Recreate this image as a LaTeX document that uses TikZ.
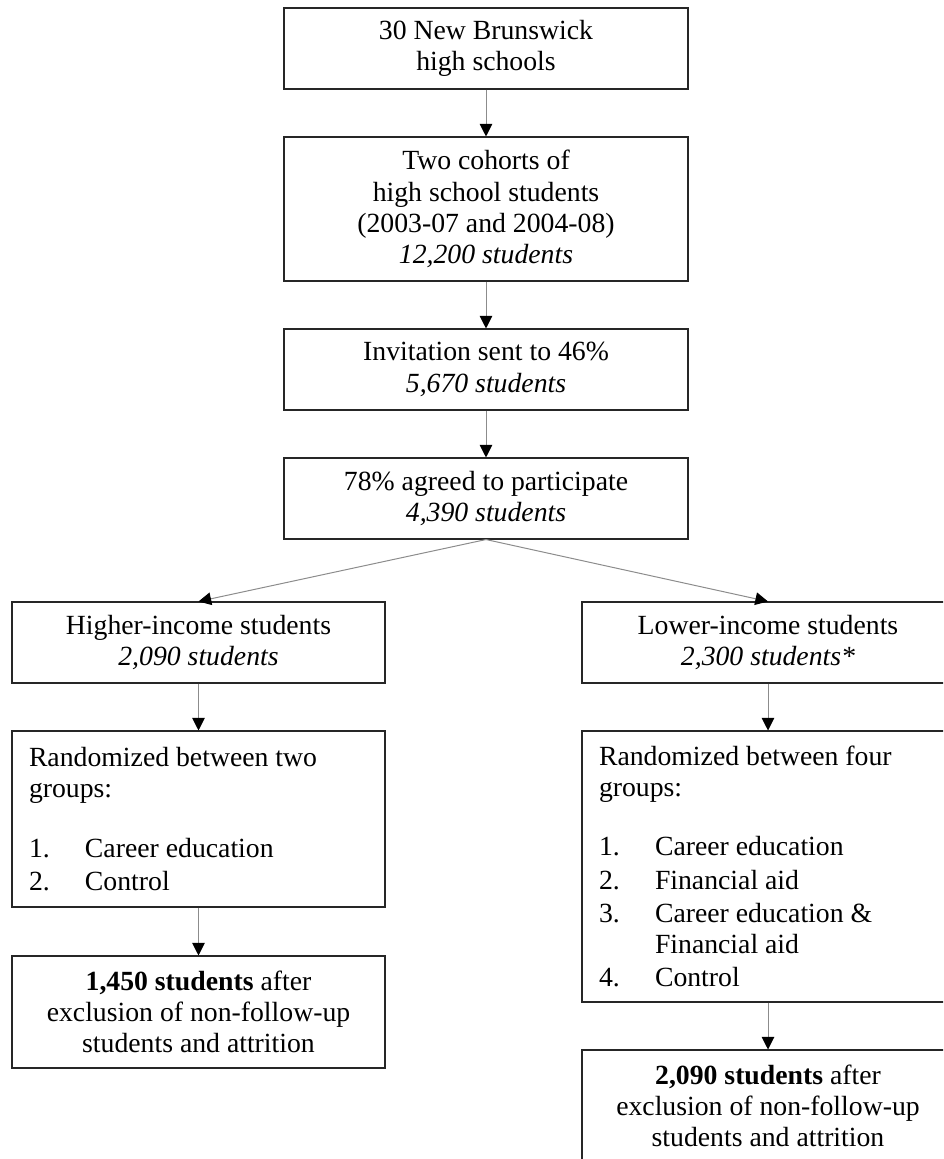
\documentclass[tikz,border=0pt]{standalone}
\usepackage{fontspec}
\setmainfont{Liberation Serif}
\usetikzlibrary{arrows.meta}
\tikzset{
  box/.style={draw=black!85, line width=0.8pt, inner sep=0pt, align=center,
    font=\fontsize{20.8pt}{23.4pt}\selectfont},
  lbox/.style={box, align=flush left, inner xsep=12.75pt, inner ysep=0pt},
  conn/.style={draw=black!45, line width=0.75pt,
    -{Triangle[width=9.5pt,length=9.5pt,color=black]}}
}
\newcommand{\itm}[1]{\makebox[42pt][l]{#1}}
\begin{document}
\begin{tikzpicture}[x=0.75pt,y=-0.75pt]
\useasboundingbox (0,0) rectangle (943,1159);
\clip (0,0) rectangle (943,1159);

\node[box, minimum width=303pt, minimum height=60.75pt] (b1) at (486,48.5)
  {30 New Brunswick\\high schools};
\node[box, minimum width=303pt, minimum height=108pt] (b2) at (486,209)
  {Two cohorts of\\high school students\\(2003-07 and 2004-08)\\\textit{12,200 students}};
\node[box, minimum width=303pt, minimum height=60.75pt] (b3) at (486,369.5)
  {Invitation sent to 46\%\\\textit{5,670 students}};
\node[box, minimum width=303pt, minimum height=60.75pt] (b4) at (486,498.5)
  {78\% agreed to participate\\\textit{4,390 students}};

\node[box, minimum width=279.75pt, minimum height=60.75pt] (b5) at (198.5,642.5)
  {Higher-income students\\\textit{2,090 students}};
\node[box, minimum width=279pt, minimum height=60.75pt] (b6) at (768,642.5)
  {Lower-income students\\\textit{2,300 students*}};

\node[lbox, text width=254.25pt, minimum height=132pt] (b7) at (198.5,819)
  {Randomized between two\\groups:\\[21pt]
   \itm{1.}Career education\\[1.5pt]
   \itm{2.}Control};
\node[lbox, text width=253.5pt, minimum height=203.25pt] (b8) at (768,866.5)
  {Randomized between four\\groups:\\[21pt]
   \itm{1.}Career education\\[1.5pt]
   \itm{2.}Financial aid\\[1.5pt]
   \itm{3.}Career education \&\\
   \itm{}Financial aid\\[1.5pt]
   \itm{4.}Control};

\node[box, minimum width=279.75pt, minimum height=84pt] (b9) at (198.5,1012)
  {\textbf{1,450 students} after\\exclusion of non-follow-up\\students and attrition};
\node[box, minimum width=279pt, minimum height=84pt] (b10) at (768,1106)
  {\textbf{2,090 students} after\\exclusion of non-follow-up\\students and attrition};

\draw[conn] (b1) -- (b2);
\draw[conn] (b2) -- (b3);
\draw[conn] (b3) -- (b4);
\draw[conn] (b4.south) -- (b5.north);
\draw[conn] (b4.south) -- (b6.north);
\draw[conn] (b5) -- (b7);
\draw[conn] (b6) -- (b8);
\draw[conn] (b7) -- (b9);
\draw[conn] (b8) -- (b10);
\end{tikzpicture}
\end{document}
